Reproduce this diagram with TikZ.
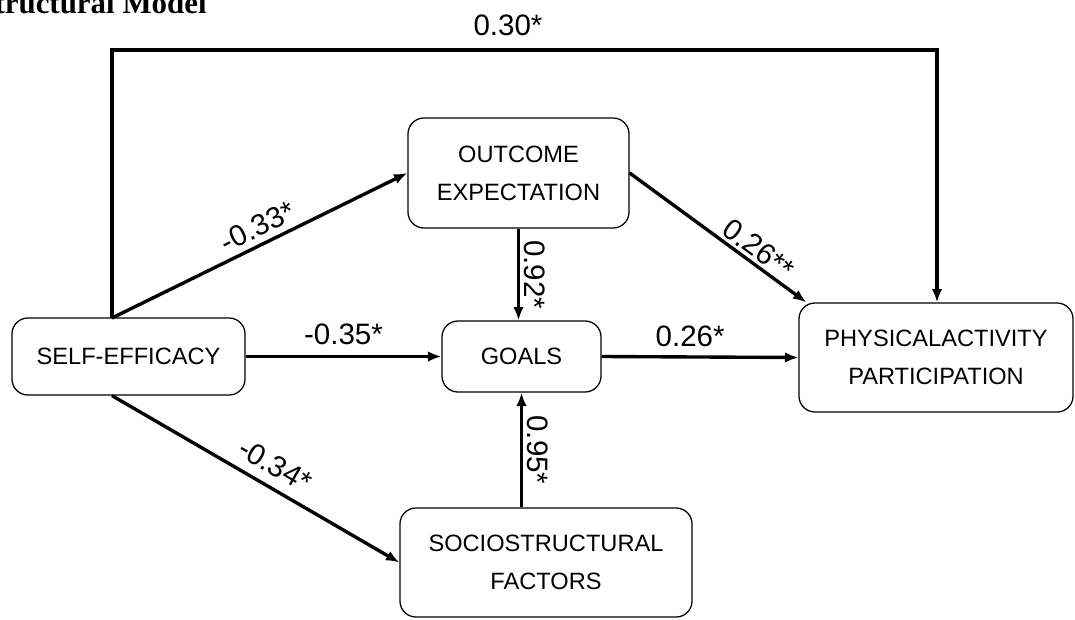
\documentclass[tikz,border=0pt]{standalone}
\usepackage{fontspec}
\setmainfont{Liberation Sans}
\newfontfamily\titlefont{Liberation Serif}
\usetikzlibrary{positioning}
\usetikzlibrary{arrows.meta}
\usetikzlibrary{calc}

\begin{document}
\begin{tikzpicture}[x=0.025cm, y=-0.025cm, >={Latex[length=9.5pt,width=7.5pt]},
box/.style={draw, line width=0.9pt, rounded corners=0.4cm, align=center, inner sep=0pt, font=\fontsize{16.8}{27}\selectfont},
link/.style={->, line width=2.4pt},
coef/.style={font=\fontsize{21}{24}\selectfont, inner sep=2pt}]
\useasboundingbox (0,0) rectangle (1075,619);

% title (cut at the left edge)
\node[anchor=base east, inner sep=0pt, font=\titlefont\bfseries\fontsize{22}{26}\selectfont] (title) at (207,13) {Sociostructural Model};

% boxes
\node[box, minimum width=5.825cm, minimum height=1.925cm] (selfeff) at (128.5,356.5) {SELF-EFFICACY};
\node[box, minimum width=5.525cm, minimum height=2.75cm] (outcome) at (518.5,173) {OUTCOME\\EXPECTATION};
\node[box, minimum width=3.975cm, minimum height=1.775cm] (goals) at (521.5,356.5) {GOALS};
\node[box, minimum width=7.3cm, minimum height=2.725cm] (socio) at (546,562.5) {SOCIOSTRUCTURAL\\FACTORS};
\node[box, minimum width=6.85cm, minimum height=2.725cm] (pa) at (936,357.5) {PHYSICALACTIVITY\\PARTICIPATION};

% corners of the long path
\coordinate (fork) at (112,318);
\coordinate (tl) at (112,50);
\coordinate (tr) at (937,50);

% paths
\draw[link] (fork) -- (tl) -- node[coef, above=7pt, pos=0.48] {0.30*} (tr) -- (tr |- pa.north);
\draw[link] (fork) -- node[coef, sloped, above=2pt, pos=0.52] {-0.33*} (outcome.west);
\draw[link] (selfeff.east) -- node[coef, above=5pt] {-0.35*} (goals.west);
\draw[link] (fork |- selfeff.south) -- node[coef, sloped, above=5pt, pos=0.53] {-0.34*} (socio.west);
\draw[link] (outcome.south) -- node[coef, sloped, above=1pt] {0.92*} (outcome.south |- goals.north);
\draw[link] (goals.south |- socio.north) -- node[coef, rotate=-90, anchor=south, yshift=1pt] {0.95*} (goals.south);
\draw[link] (outcome.east) -- node[coef, sloped, above, pos=0.68] {0.26**} ($(pa.north west)+(8,0)$);
\draw[link] (goals.east) -- node[coef, above=4pt, pos=0.45] {0.26*} (pa.west);

\end{tikzpicture}
\end{document}
